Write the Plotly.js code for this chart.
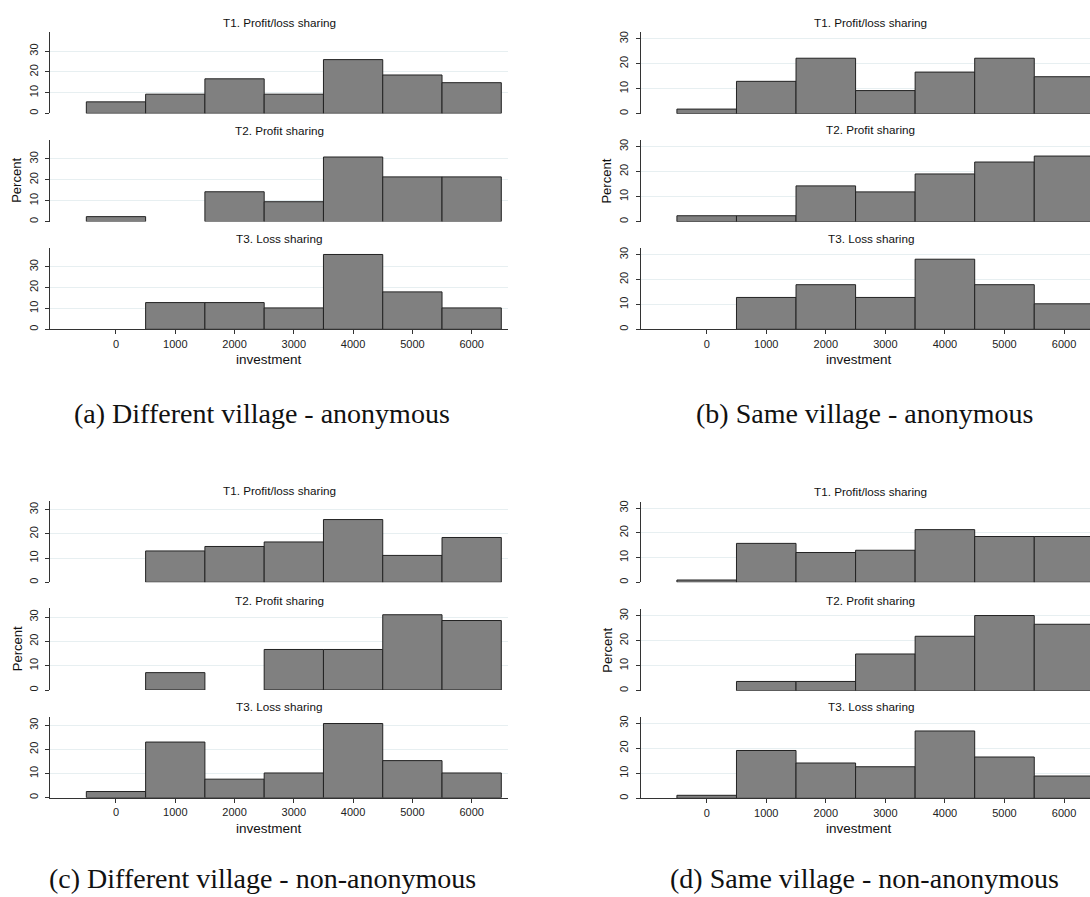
<!DOCTYPE html>
<html><head><meta charset="utf-8">
<script src="https://cdn.plot.ly/plotly-3.0.1.min.js"></script>
<style>html,body{margin:0;padding:0;background:#fff;overflow:hidden}</style>
</head><body><div id="chart" style="width:1090px;height:897px"></div>
<script>
// ---- data ----
const investmentBins = [0, 1000, 2000, 3000, 4000, 5000, 6000];
const xTickValues = [0, 1000, 2000, 3000, 4000, 5000, 6000];
const xTickLabels = ["0", "1000", "2000", "3000", "4000", "5000", "6000"];
const yTickValues = [0, 10, 20, 30];
const yTickLabels = ["0", "10", "20", "30"];
const treatmentTitles = ["T1. Profit/loss sharing", "T2. Profit sharing", "T3. Loss sharing"];
const panelCaptions = ["(a) Different village - anonymous", "(b) Same village - anonymous",
                       "(c) Different village - non-anonymous", "(d) Same village - non-anonymous"];
const xAxisTitle = "investment";
const yAxisTitle = "Percent";

// percent of subjects per investment bin (null = empty bin)
const diffAnonT1 = [5.56, 9.26, 16.67, 9.26, 25.93, 18.52, 14.81];
const diffAnonT2 = [2.38, null, 14.29, 9.52, 30.95, 21.43, 21.43];
const diffAnonT3 = [null, 12.82, 12.82, 10.26, 35.90, 17.95, 10.26];
const sameAnonT1 = [1.85, 12.96, 22.22, 9.26, 16.67, 22.22, 14.81];
const sameAnonT2 = [2.38, 2.38, 14.29, 11.90, 19.05, 23.81, 26.19];
const sameAnonT3 = [null, 12.82, 17.95, 12.82, 28.21, 17.95, 10.26];
const diffNonT1 = [null, 12.96, 14.81, 16.67, 25.93, 11.11, 18.52];
const diffNonT2 = [null, 7.14, null, 16.67, 16.67, 30.95, 28.57];
const diffNonT3 = [2.56, 23.08, 7.69, 10.26, 30.77, 15.38, 10.26];
const sameNonT1 = [0.93, 15.74, 12.04, 12.96, 21.30, 18.52, 18.52];
const sameNonT2 = [null, 3.7, 3.7, 14.7, 21.8, 30.1, 26.6];
const sameNonT3 = [1.2, 19.1, 14.1, 12.6, 26.9, 16.5, 8.9];

// ---- layout geometry (pixels) ----
const W = 1090, H = 897;
const panels = [
  {series: [diffAnonT1, diffAnonT2, diffAnonT3], x0: 50, x1: 508, xr: [-1113, 6613],
   rows: [[32.3, 113.4], [140, 221.6], [247.8, 329.3]], ytop: 39.1,
   titleX: 279, titleY: [22.7, 130.7, 238], xlabX: 269, xlabY: 360, ylabX: 17,
   capX: 262, capY: 413, cap: 0},
  {series: [sameAnonT1, sameAnonT2, sameAnonT3], x0: 640.7, x1: 1090, xr: [-1108, 6436],
   rows: [[32.3, 113.7], [140, 221.7], [248.3, 329.3]], ytop: 32.6,
   titleX: 870.6, titleY: [22.7, 130, 238.3], xlabX: 859, xlabY: 360, ylabX: 606.7,
   capX: 864, capY: 413, cap: 1},
  {series: [diffNonT1, diffNonT2, diffNonT3], x0: 50, x1: 508, xr: [-1113, 6613],
   rows: [[501, 582.3], [608.3, 690], [716.7, 797.7]], ytop: 33.6,
   titleX: 279, titleY: [490.7, 600.7, 706.7], xlabX: 269, xlabY: 828.3, ylabX: 17,
   capX: 262, capY: 878, cap: 2},
  {series: [sameNonT1, sameNonT2, sameNonT3], x0: 640.7, x1: 1090, xr: [-1108, 6436],
   rows: [[501.7, 582.3], [609.3, 690.7], [716.7, 798.3]], ytop: 32.6,
   titleX: 870.6, titleY: [491.7, 600, 706.7], xlabX: 859, xlabY: 828.3, ylabX: 606.7,
   capX: 864, capY: 878, cap: 3}
];

const sans = "Liberation Sans, Arial, sans-serif";
const traces = [];
const layout = {
  width: W, height: H, margin: {l: 0, r: 0, t: 0, b: 0},
  paper_bgcolor: "#ffffff", plot_bgcolor: "#ffffff",
  showlegend: false, font: {family: sans, color: "#111"},
  annotations: []
};

function ann(text, px, py, size, opts) {
  return Object.assign({text: text, x: px / W, y: 1 - py / H, xref: "paper", yref: "paper",
    xanchor: "center", yanchor: "middle", showarrow: false,
    font: {family: sans, size: size, color: "#111"}}, opts || {});
}

let idx = 0;
panels.forEach(p => {
  p.series.forEach((vals, r) => {
    idx++;
    const sx = idx === 1 ? "" : String(idx);
    traces.push({
      type: "bar", x: investmentBins, y: vals, width: 1000,
      xaxis: "x" + sx, yaxis: "y" + sx, hoverinfo: "skip",
      marker: {color: "#808080", line: {color: "#222222", width: 1}}
    });
    const last = r === 2;
    layout["xaxis" + sx] = {
      domain: [p.x0 / W, p.x1 / W], range: p.xr, anchor: "y" + sx,
      showgrid: false, zeroline: false, showline: last, linecolor: "#333", linewidth: 1,
      ticks: last ? "outside" : "", ticklen: 4, tickcolor: "#333",
      tickmode: "array", tickvals: xTickValues, ticktext: xTickLabels,
      showticklabels: last, tickfont: {family: sans, size: 11, color: "#222"},
      fixedrange: true
    };
    layout["yaxis" + sx] = {
      domain: [1 - p.rows[r][1] / H, 1 - p.rows[r][0] / H], range: [0, p.ytop], anchor: "x" + sx,
      showgrid: true, gridcolor: "#e7eff1", gridwidth: 1, zeroline: false,
      showline: true, linecolor: "#333", linewidth: 1,
      ticks: "outside", ticklen: 4, tickcolor: "#333", ticklabelstandoff: 3,
      tickmode: "array", tickvals: yTickValues, ticktext: yTickLabels, tickangle: -90,
      tickfont: {family: sans, size: 11, color: "#222"}, fixedrange: true
    };
    layout.annotations.push(ann(treatmentTitles[r], p.titleX, p.titleY[r], 11.7));
  });
  layout.annotations.push(ann(xAxisTitle, p.xlabX, p.xlabY, 13.5));
  layout.annotations.push(ann(yAxisTitle, p.ylabX, (p.rows[1][0] + p.rows[1][1]) / 2, 13, {textangle: -90}));
  layout.annotations.push(ann(panelCaptions[p.cap], p.capX, p.capY, 28,
    {font: {family: "Liberation Serif, Times New Roman, serif", size: 28, color: "#111"}}));
});

Plotly.newPlot("chart", traces, layout, {staticPlot: true, displayModeBar: false});
</script>
</body></html>
